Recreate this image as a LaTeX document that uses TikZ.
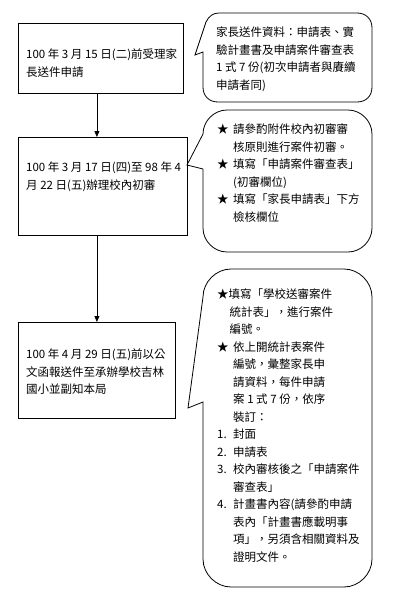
\documentclass[tikz,border=0pt]{standalone}
\usepackage{fontspec}
\newfontfamily\cjk{Noto Sans CJK TC}
\usepackage{tikz}
\usetikzlibrary{arrows.meta}

\newcommand{\bul}{\makebox[16pt][l]{★}}
\newcommand{\ind}{\hspace*{16pt}}

\begin{document}
\begin{tikzpicture}[x=1pt,y=-1pt,
  box/.style={draw, line width=0.8pt, anchor=north west, inner sep=0pt},
  txt/.style={anchor=north west, inner sep=0pt, align=left,
    font=\cjk\fontsize{11.5}{17.5}\selectfont},
  arr/.style={-{Triangle[length=6pt,width=5pt]}, line width=0.8pt},
  bubble/.style={draw, line width=0.8pt}]

\useasboundingbox (0,0) rectangle (409,600);

%%% --- Step boxes --- %%%
\node[box, minimum width=165pt, minimum height=70pt] (b1) at (18,23) {};
\node[box, minimum width=169pt, minimum height=98pt] (b2) at (18,137) {};
\node[box, minimum width=157pt, minimum height=96pt] (b3) at (18,322) {};

\node[txt] (t1) at (26,49) {100 年 3 月 15 日(二)前受理家\\長送件申請};
\node[txt] (t2) at (26,162) {100 年 3 月 17 日(四)至 98 年 4\\月 22 日(五)辦理校內初審};
\node[txt] (t3) at (26,349) {100 年 4 月 29 日(五)前以公\\文函報送件至承辦學校吉林\\國小並副知本局};


%%% --- Arrows --- %%%
\draw[arr] (b1.south -| b3.north) -- (b2.north -| b3.north);
\draw[arr] (b2.south -| b3.north) -- (b3.north);


%%% --- Callouts --- %%%
% callout 1
\draw[bubble] (195,55) -- (206,22) .. controls (209,16) and (213,13) .. (219,13)
  -- (357,13) .. controls (366,13) and (372,19) .. (372,28)
  -- (372,87) .. controls (372,96) and (366,102) .. (357,102)
  -- (218,102) .. controls (209,102) and (203,96) .. (203,87)
  -- (203,52) -- cycle;

% callout 2
\draw[bubble] (187,165) -- (203,134) .. controls (203,121) and (214,110) .. (227,110)
  -- (348,110) .. controls (361,110) and (372,121) .. (372,134)
  -- (372,228) .. controls (372,241) and (361,252) .. (348,252)
  -- (227,252) .. controls (214,252) and (203,241) .. (203,228)
  -- (203,169) -- cycle;

% callout 3
\draw[bubble] (188,408) -- (203,297) .. controls (203,282) and (216,269) .. (231,269)
  -- (344,269) .. controls (359,269) and (372,282) .. (372,297)
  -- (372,559) .. controls (372,574) and (359,587) .. (344,587)
  -- (231,587) .. controls (216,587) and (203,574) .. (203,559)
  -- (203,402) -- cycle;

\node[txt] (c1) at (216,27) {家長送件資料：申請表、實\\驗計畫書及申請案件審查表\\1 式 7 份(初次申請者與賡續\\申請者同)};

\node[txt] (c2) at (217,124) {\bul 請參酌附件校內初審審\\\ind 核原則進行案件初審。\\\bul 填寫「申請案件審查表」\\\ind (初審欄位)\\\bul 填寫「家長申請表」下方\\\ind 檢核欄位};

\node[txt] (c3) at (217,289) {★填寫「學校送審案件\\\hspace*{12.5pt}統計表」，進行案件\\\hspace*{12.5pt}編號。\\\bul 依上開統計表案件\\\ind 編號，彙整家長申\\\ind 請資料，每件申請\\\ind 案 1 式 7 份，依序\\\ind 裝訂：\\\makebox[16pt][l]{1.}封面\\\makebox[16pt][l]{2.}申請表\\\makebox[16pt][l]{3.}校內審核後之「申請案件\\\ind 審查表」\\\makebox[16pt][l]{4.}計畫書內容(請參酌申請\\\ind 表內「計畫書應載明事\\\ind 項」，另須含相關資料及\\\ind 證明文件。};

\end{tikzpicture}
\end{document}
